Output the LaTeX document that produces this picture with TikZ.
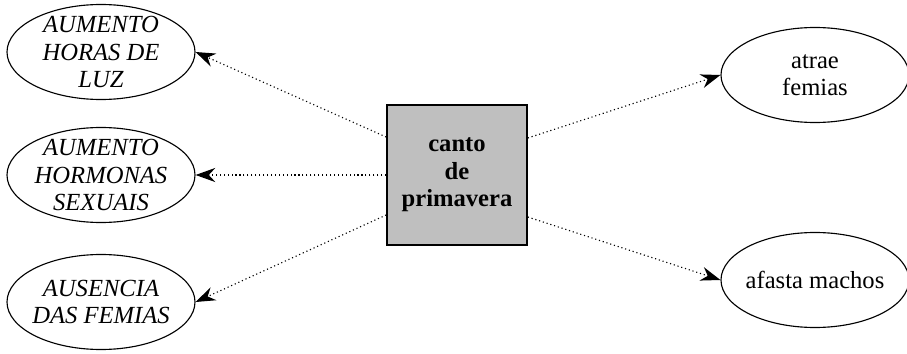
\documentclass[tikz,border=0pt]{standalone}
\usepackage{fontspec}
\setmainfont{Liberation Serif}
\usetikzlibrary{arrows.meta}
\usetikzlibrary{shapes.geometric}

\begin{document}
\begin{tikzpicture}[
        font=\fontsize{17.5}{19.5}\selectfont,
        effect/.style={ellipse, draw, thick, minimum width=4.7cm, minimum height=2.375cm, inner xsep=-12pt, inner ysep=-12pt, align=center},
        causa/.style={font=\fontsize{17.5}{19.5}\selectfont\itshape},
        song/.style={rectangle, draw, very thick, fill=black!25, minimum size=3.5cm, align=center, font=\fontsize{17.5}{19.5}\selectfont\bfseries},
        link/.style={-{Stealth[length=14pt, width=10pt]}, dotted, line width=0.8pt}
    ]
        % --- Marco ---
        \useasboundingbox (0,0) rectangle (22.675,8.825);

        % --- Caixa central ---
        \node[song] (canto) at (11.425,4.45) {canto\\de\\primavera};

        % --- Elipses da esquerda ---
        \node[effect, causa] (luz) at (2.525,7.525) {AUMENTO\\HORAS DE\\LUZ};
        \node[effect, causa] (horm) at (2.525,4.45) {AUMENTO\\HORMONAS\\SEXUAIS};
        \node[effect, causa] (ausencia) at (2.525,1.275) {AUSENCIA\\DAS FEMIAS};

        % --- Elipses da dereita ---
        \node[effect] (atrae) at (20.375,6.95) {atrae\\femias};
        \node[effect] (afasta) at (20.375,1.825) {afasta machos};

        % --- Frechas ---
        \draw[link] ([yshift=0.95cm]canto.west) -- (luz.east);
        \draw[link] (canto.west) -- (horm.east);
        \draw[link] ([yshift=-1cm]canto.west) -- (ausencia.east);
        \draw[link] ([yshift=0.925cm]canto.east) -- (atrae.west);
        \draw[link] ([yshift=-1.05cm]canto.east) -- (afasta.west);

    \end{tikzpicture}
\end{document}
